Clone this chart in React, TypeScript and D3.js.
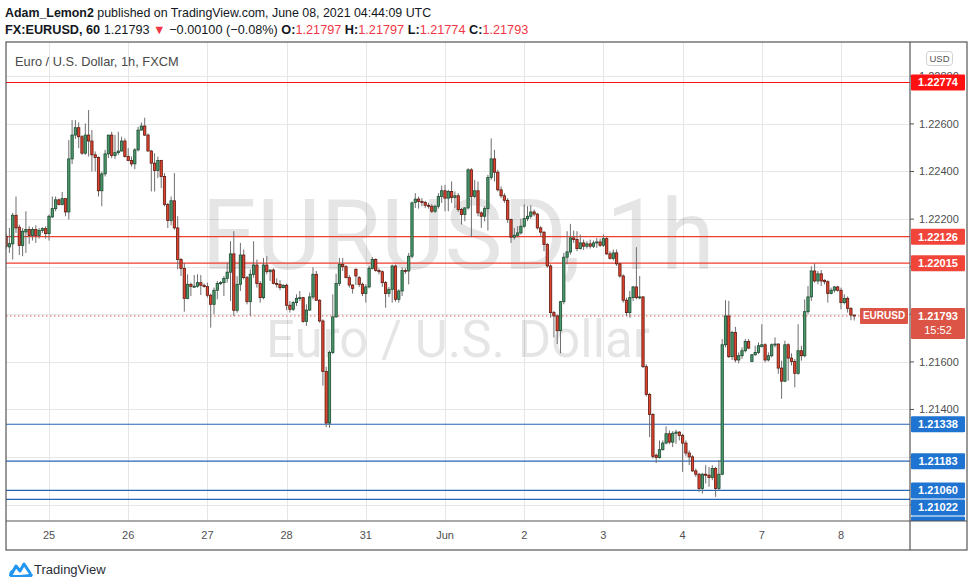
import React from "react";
import * as d3 from "d3";

// EURUSD 1h candles, [open, high, low, close], one array per trading day
type Bar = [number, number, number, number];

const may24: Bar[] = [
  [1.22128, 1.2214, 1.22075, 1.22086], [1.22083, 1.22163, 1.22058, 1.22097], [1.22096, 1.22226, 1.2203, 1.22216],
  [1.22216, 1.22295, 1.22142, 1.22163], [1.22166, 1.22177, 1.22049, 1.22089], [1.22089, 1.22163, 1.22044, 1.22149],
  [1.22146, 1.22233, 1.22058, 1.22156], [1.22156, 1.2217, 1.22096, 1.22131], [1.22131, 1.22166, 1.2211, 1.22156],
  [1.22156, 1.22174, 1.221, 1.22131], [1.22131, 1.22163, 1.22118, 1.22152], [1.22152, 1.22166, 1.22142, 1.2216],
  [1.2216, 1.2217, 1.22118, 1.22139],
];
const may25: Bar[] = [
  [1.22139, 1.22219, 1.2211, 1.22212], [1.22209, 1.22295, 1.22205, 1.22244], [1.22244, 1.22295, 1.22233, 1.22281],
  [1.22281, 1.22286, 1.22258, 1.22261], [1.22261, 1.22314, 1.22258, 1.22286], [1.22286, 1.22288, 1.22212, 1.2223],
  [1.2223, 1.22532, 1.22198, 1.22453], [1.22453, 1.22616, 1.22431, 1.22553], [1.22553, 1.22616, 1.22537, 1.22584],
  [1.22584, 1.22606, 1.22498, 1.22546], [1.22546, 1.22553, 1.2247, 1.22477], [1.22477, 1.22602, 1.2247, 1.22553],
  [1.22553, 1.22658, 1.22463, 1.22528], [1.22528, 1.22574, 1.224, 1.2247], [1.2247, 1.22484, 1.224, 1.22459],
  [1.22459, 1.22463, 1.22295, 1.22319], [1.22319, 1.224, 1.22254, 1.2239], [1.2239, 1.22491, 1.22379, 1.22474],
  [1.22474, 1.22553, 1.22456, 1.22553], [1.22553, 1.22567, 1.22456, 1.22467], [1.22467, 1.22553, 1.22453, 1.22479],
  [1.22479, 1.22567, 1.2247, 1.22486], [1.22486, 1.22546, 1.22484, 1.22528], [1.22528, 1.22539, 1.22459, 1.22463],
];
const may26: Bar[] = [
  [1.22463, 1.22498, 1.22443, 1.22446], [1.22446, 1.22463, 1.22421, 1.22432], [1.22432, 1.22498, 1.2241, 1.22491],
  [1.22491, 1.22588, 1.22484, 1.22574], [1.22574, 1.22606, 1.22572, 1.22591], [1.22591, 1.22626, 1.22549, 1.22553],
  [1.22553, 1.2256, 1.22484, 1.22486], [1.22486, 1.22491, 1.22316, 1.22435], [1.22435, 1.22477, 1.22316, 1.22404],
  [1.22404, 1.22463, 1.22372, 1.22446], [1.22446, 1.22449, 1.2233, 1.22379], [1.22379, 1.22393, 1.22254, 1.22261],
  [1.22261, 1.22268, 1.22163, 1.22194], [1.22194, 1.22295, 1.22174, 1.22277], [1.22277, 1.22393, 1.22156, 1.22163],
  [1.22163, 1.22212, 1.21989, 1.2203], [1.2203, 1.22037, 1.21961, 1.21993], [1.21993, 1.22016, 1.21811, 1.21867],
  [1.21867, 1.21968, 1.21863, 1.21926], [1.21926, 1.21933, 1.21877, 1.21917], [1.21917, 1.21965, 1.21912, 1.21918],
  [1.21918, 1.21968, 1.21912, 1.21933], [1.21933, 1.21965, 1.21881, 1.21922], [1.21922, 1.21929, 1.21912, 1.21917],
];
const may27: Bar[] = [
  [1.21917, 1.21933, 1.2187, 1.2188], [1.2188, 1.21887, 1.21744, 1.21842], [1.21842, 1.21912, 1.218, 1.21901],
  [1.21901, 1.2194, 1.21863, 1.21929], [1.21929, 1.2194, 1.21923, 1.21933], [1.21933, 1.21961, 1.21877, 1.21951],
  [1.21951, 1.22016, 1.21933, 1.21977], [1.21977, 1.22107, 1.21856, 1.22054], [1.22054, 1.22149, 1.21793, 1.21817],
  [1.21817, 1.2196, 1.21807, 1.21926], [1.21926, 1.221, 1.21898, 1.22049], [1.22049, 1.22072, 1.21947, 1.21954],
  [1.21954, 1.21961, 1.21842, 1.21853], [1.21853, 1.21989, 1.21793, 1.21968], [1.21968, 1.22107, 1.21954, 1.22007],
  [1.22007, 1.2203, 1.21912, 1.21929], [1.21929, 1.2194, 1.21849, 1.2187], [1.2187, 1.22037, 1.21863, 1.22007],
  [1.22007, 1.22044, 1.21968, 1.21979], [1.21979, 1.21989, 1.2194, 1.21986], [1.21986, 1.21993, 1.21926, 1.2193],
  [1.2193, 1.21951, 1.21912, 1.21926], [1.21926, 1.21943, 1.21901, 1.21912], [1.21912, 1.21926, 1.21909, 1.21922],
];
const may28: Bar[] = [
  [1.21922, 1.21929, 1.21817, 1.21838], [1.21838, 1.21856, 1.21807, 1.21821], [1.21821, 1.21856, 1.21814, 1.21849],
  [1.21849, 1.21884, 1.21835, 1.21867], [1.21867, 1.21898, 1.21856, 1.2187], [1.2187, 1.21873, 1.21765, 1.2177],
  [1.2177, 1.21842, 1.21751, 1.21818], [1.21818, 1.21891, 1.21814, 1.21873], [1.21873, 1.21998, 1.21863, 1.21968],
  [1.21968, 1.21982, 1.21856, 1.21859], [1.21859, 1.21863, 1.21765, 1.21772], [1.21772, 1.21779, 1.215, 1.2156],
  [1.2156, 1.2158, 1.21326, 1.21343], [1.21343, 1.21647, 1.21323, 1.2164], [1.2164, 1.21884, 1.21633, 1.21789],
  [1.21789, 1.2197, 1.21786, 1.21929], [1.21929, 1.22037, 1.21919, 1.2201], [1.2201, 1.22037, 1.21982, 1.22],
  [1.22, 1.22007, 1.21951, 1.21954], [1.21954, 1.21965, 1.21912, 1.21923], [1.21923, 1.21926, 1.21887, 1.21909],
];
const may30: Bar[] = [
  [1.21989, 1.21993, 1.21923, 1.21961], [1.21954, 1.21961, 1.21915, 1.21926], [1.21926, 1.21933, 1.21877, 1.21887],
];
const may31: Bar[] = [
  [1.21887, 1.21926, 1.21849, 1.21915], [1.21915, 1.22003, 1.21909, 1.21993], [1.21993, 1.2204, 1.21989, 1.2203],
  [1.2203, 1.22035, 1.21979, 1.21984], [1.21984, 1.21993, 1.21968, 1.21979], [1.21979, 1.21984, 1.21915, 1.21933],
  [1.21933, 1.2194, 1.21828, 1.21887], [1.21887, 1.21915, 1.21873, 1.21905], [1.21905, 1.22009, 1.21849, 1.22003],
  [1.22003, 1.22009, 1.21853, 1.21863], [1.21863, 1.21905, 1.21849, 1.21898], [1.21898, 1.21996, 1.21877, 1.21984],
  [1.21984, 1.21993, 1.2197, 1.21982], [1.21982, 1.22058, 1.21926, 1.22044], [1.22044, 1.22274, 1.22035, 1.22268],
  [1.2227, 1.22309, 1.22247, 1.22284], [1.22284, 1.22295, 1.22244, 1.22274], [1.22274, 1.22288, 1.22254, 1.2227],
  [1.2227, 1.22277, 1.22247, 1.22258], [1.22258, 1.22268, 1.22244, 1.22254], [1.22254, 1.22263, 1.22226, 1.22233],
  [1.22233, 1.2226, 1.22226, 1.22254], [1.22254, 1.22309, 1.22244, 1.22295], [1.22295, 1.22341, 1.22268, 1.22319],
];
const jun01: Bar[] = [
  [1.22319, 1.22344, 1.22233, 1.22288], [1.22288, 1.22323, 1.22233, 1.22316], [1.22316, 1.22358, 1.22268, 1.22291],
  [1.22291, 1.22316, 1.22247, 1.22298], [1.22298, 1.22309, 1.2223, 1.2224], [1.2224, 1.22247, 1.22177, 1.22219],
  [1.22219, 1.2225, 1.22191, 1.22247], [1.22247, 1.22414, 1.2224, 1.22407], [1.22407, 1.22414, 1.22124, 1.22295],
  [1.22295, 1.22365, 1.22288, 1.22319], [1.22319, 1.22358, 1.22212, 1.22226], [1.22226, 1.22233, 1.22163, 1.22212],
  [1.22212, 1.22254, 1.22191, 1.22244], [1.22244, 1.22386, 1.22152, 1.22375], [1.22375, 1.22539, 1.22365, 1.22453],
  [1.22453, 1.22491, 1.22358, 1.22397], [1.22397, 1.22407, 1.22316, 1.22323], [1.22323, 1.22337, 1.22288, 1.22298],
  [1.22298, 1.22309, 1.22268, 1.22279], [1.22279, 1.22288, 1.22184, 1.22198], [1.22198, 1.22202, 1.221, 1.22124],
  [1.22124, 1.22163, 1.22114, 1.22132], [1.22132, 1.2217, 1.22124, 1.22142], [1.22142, 1.22202, 1.22135, 1.2217],
];
const jun02: Bar[] = [
  [1.2217, 1.22261, 1.22163, 1.22202], [1.22202, 1.22254, 1.22191, 1.22212], [1.22212, 1.22258, 1.22202, 1.2223],
  [1.2223, 1.2224, 1.22212, 1.22221], [1.22221, 1.22226, 1.22156, 1.22163], [1.22163, 1.2217, 1.22128, 1.22145],
  [1.22145, 1.22149, 1.22065, 1.22093], [1.22093, 1.221, 1.21996, 1.22003], [1.22003, 1.2201, 1.21786, 1.21807],
  [1.21807, 1.21814, 1.21703, 1.21793], [1.21793, 1.218, 1.21675, 1.21731], [1.21731, 1.21856, 1.21636, 1.21853],
  [1.21853, 1.22058, 1.21842, 1.2204], [1.2204, 1.22149, 1.2201, 1.22062], [1.22062, 1.2218, 1.22051, 1.22121],
  [1.22121, 1.22152, 1.221, 1.22114], [1.22114, 1.22149, 1.22065, 1.22076], [1.22076, 1.22135, 1.22072, 1.221],
  [1.221, 1.22114, 1.2207, 1.22086], [1.22086, 1.22107, 1.22076, 1.22096], [1.22096, 1.22114, 1.22076, 1.22086],
  [1.22086, 1.2211, 1.22079, 1.221], [1.221, 1.22121, 1.22079, 1.22104], [1.22104, 1.22118, 1.22083, 1.2209],
];
const jun03: Bar[] = [
  [1.2209, 1.22135, 1.22083, 1.22118], [1.22118, 1.22124, 1.22049, 1.22054], [1.22054, 1.22065, 1.2203, 1.22035],
  [1.22035, 1.22072, 1.22026, 1.22058], [1.22058, 1.22072, 1.22003, 1.22012], [1.22012, 1.22016, 1.21954, 1.21961],
  [1.21961, 1.21968, 1.21849, 1.21859], [1.21859, 1.2187, 1.21793, 1.21807], [1.21807, 1.21898, 1.21786, 1.2187],
  [1.2187, 1.21919, 1.21856, 1.21915], [1.21915, 1.22082, 1.21863, 1.2187], [1.2187, 1.21961, 1.21863, 1.21873],
  [1.21873, 1.21877, 1.21574, 1.2158], [1.2158, 1.2159, 1.21455, 1.21463], [1.21463, 1.2147, 1.21284, 1.21379],
  [1.21379, 1.21385, 1.21194, 1.21203], [1.21208, 1.21215, 1.21175, 1.21198], [1.21198, 1.2127, 1.21194, 1.21231],
  [1.21231, 1.2127, 1.21228, 1.21259], [1.21259, 1.21329, 1.21254, 1.21298], [1.21298, 1.21312, 1.21254, 1.21263],
  [1.21263, 1.21309, 1.21242, 1.213], [1.213, 1.21315, 1.21256, 1.21305], [1.21305, 1.21309, 1.2127, 1.21291],
];
const jun04: Bar[] = [
  [1.21291, 1.21298, 1.21138, 1.21259], [1.21259, 1.2127, 1.21203, 1.21217], [1.21217, 1.21228, 1.21166, 1.21201],
  [1.21201, 1.21208, 1.21138, 1.21142], [1.21142, 1.21152, 1.21117, 1.21128], [1.21128, 1.21134, 1.21054, 1.21068],
  [1.21068, 1.21134, 1.21047, 1.21128], [1.21128, 1.21166, 1.21089, 1.21124], [1.21124, 1.21159, 1.21075, 1.21114],
  [1.21114, 1.21166, 1.21103, 1.21152], [1.21152, 1.21159, 1.21033, 1.21068], [1.21068, 1.21187, 1.21061, 1.21128],
  [1.21128, 1.21696, 1.21124, 1.21672], [1.21672, 1.21859, 1.21661, 1.21793], [1.21793, 1.21856, 1.21616, 1.21622],
  [1.21622, 1.21731, 1.21608, 1.21724], [1.21724, 1.21747, 1.21598, 1.21608], [1.21608, 1.2164, 1.21594, 1.21626],
  [1.21626, 1.21661, 1.21613, 1.21647], [1.21647, 1.21696, 1.2164, 1.21686], [1.21686, 1.21696, 1.21654, 1.21658],
];
const jun06: Bar[] = [
  [1.21602, 1.21633, 1.21598, 1.2163], [1.2163, 1.21668, 1.21626, 1.2164], [1.2164, 1.21682, 1.21633, 1.21668],
];
const jun07: Bar[] = [
  [1.21664, 1.21758, 1.21661, 1.21672], [1.21672, 1.21678, 1.21598, 1.21608], [1.21608, 1.2164, 1.21602, 1.21626],
  [1.21626, 1.21678, 1.21619, 1.21672], [1.21672, 1.21703, 1.21661, 1.21675], [1.21675, 1.21678, 1.2155, 1.21574],
  [1.21574, 1.21605, 1.21445, 1.21519], [1.21519, 1.21689, 1.21515, 1.21672], [1.21672, 1.21678, 1.21521, 1.21616],
  [1.21616, 1.21636, 1.21585, 1.21602], [1.21602, 1.21612, 1.21493, 1.21552], [1.21552, 1.21758, 1.21546, 1.21647],
  [1.21647, 1.21668, 1.21605, 1.21626], [1.21626, 1.21863, 1.21619, 1.21811], [1.21811, 1.21919, 1.218, 1.21873],
  [1.21873, 1.22002, 1.21856, 1.21982], [1.21982, 1.22014, 1.21933, 1.2194], [1.2194, 1.21982, 1.21926, 1.2197],
  [1.2197, 1.21986, 1.21919, 1.2194], [1.21943, 1.21947, 1.21926, 1.21937], [1.21937, 1.21943, 1.21849, 1.21887],
  [1.21887, 1.21912, 1.21884, 1.21901], [1.21901, 1.21919, 1.21891, 1.21915], [1.21915, 1.2192, 1.21895, 1.21901],
];
const jun08: Bar[] = [
  [1.21901, 1.21912, 1.21821, 1.21849], [1.21849, 1.21884, 1.21842, 1.21867], [1.21867, 1.21875, 1.21807, 1.21825],
  [1.21825, 1.2183, 1.21775, 1.21797], [1.21797, 1.21797, 1.21774, 1.21793],
];

const bars: Bar[] = [
  ...may24, ...may25, ...may26, ...may27, ...may28, ...may30, ...may31,
  ...jun01, ...jun02, ...jun03, ...jun04, ...jun06, ...jun07, ...jun08,
];
const firstBarHour = -13; // first bar is 13 hours before the May 25 label

const dayLabels = ["25", "26", "27", "28", "31", "Jun", "2", "3", "4", "7", "8"];
const dayHours = [0, 24, 48, 72, 96, 120, 144, 168, 192, 216, 240];

const priceTicks = [1.21, 1.212, 1.214, 1.216, 1.218, 1.22, 1.222, 1.224, 1.226, 1.228];

type Level = { price: number; line: string | null; box: string };
const levels: Level[] = [
  { price: 1.22774, line: "#ff1111", box: "#ff1111" },
  { price: 1.22126, line: "#f23c2e", box: "#f2453a" },
  { price: 1.22015, line: "#f23c2e", box: "#f2453a" },
  { price: 1.21338, line: "#2466b5", box: "#1f74d1" },
  { price: 1.21183, line: "#2466b5", box: "#1f74d1" },
  { price: 1.2106, line: "#2466b5", box: "#1f74d1" },
  { price: 1.21022, line: "#2466b5", box: "#1f74d1" },
  { price: 1.2094, line: null, box: "#1f74d1" }, // only the edge of its tag shows
];
const lastPrice = 1.21793;
const countdown = "15:52";

const W = 975;
const H = 587;
const left = 6;
const top = 42;
const plotRight = 910;
const plotBottom = 521;
const frameRight = 967;
const frameBottom = 550;
const font = "'Liberation Sans', Arial, sans-serif";
const lastColor = "#dc5446";

export default function App() {
  const x = d3.scaleLinear().domain([0, 240]).range([49, 841]);
  const y = d3.scaleLinear().domain([1.209315, 1.229441]).range([plotBottom, top]);
  const step = x(1) - x(0);
  const bw = step * 0.7;

  // axis label boxes, pushed down when they collide
  const boxH = 16;
  const lastTop = y(lastPrice) - 8;
  const lastH = 31;
  const boxes: { level: Level; cy: number }[] = [];
  let prevBottom = -Infinity;
  levels.forEach((lv) => {
    let cy = y(lv.price);
    if (cy - boxH / 2 < prevBottom + 1) cy = prevBottom + 1 + boxH / 2;
    boxes.push({ level: lv, cy });
    prevBottom = cy + boxH / 2;
  });

  // tick labels hidden where a tag sits on them (the top one is only partly covered)
  const covered = (ty: number) =>
    boxes.some((b) => Math.abs(b.cy - ty) < 7) || (ty > lastTop - 4 && ty < lastTop + lastH + 4);
  const shownTicks = priceTicks.filter((p) => p === 1.228 || !covered(y(p)));

  const fmt = d3.format(".5f");

  return (
    <div style={{ position: "absolute", left: 0, top: 0 }}>
      <svg width={W} height={H} style={{ display: "block", fontFamily: font }}>
        <rect width={W} height={H} fill="#fff" />
        <defs>
          <clipPath id="plot">
            <rect x={left} y={top} width={plotRight - left} height={plotBottom - top} />
          </clipPath>
          <clipPath id="axis">
            <rect x={plotRight} y={top} width={frameRight - plotRight} height={plotBottom - top} />
          </clipPath>
        </defs>

        {/* header */}
        <text x={5} y={17} fontSize={12.4} fill="#131722">
          <tspan fontWeight="bold">Adam_Lemon2</tspan>
          <tspan> published on TradingView.com, June 08, 2021 04:44:09 UTC</tspan>
        </text>
        <text x={5} y={34} fontSize={12.7} fill="#131722">
          <tspan fontWeight="bold">FX:EURUSD, 60</tspan>
          <tspan> 1.21793 </tspan>
          <tspan fill="#f23645">▼</tspan>
          <tspan> −0.00100 (−0.08%) </tspan>
          <tspan fontWeight="bold">O:</tspan>
          <tspan fill="#f23645">1.21797 </tspan>
          <tspan fontWeight="bold">H:</tspan>
          <tspan fill="#f23645">1.21797 </tspan>
          <tspan fontWeight="bold">L:</tspan>
          <tspan fill="#f23645">1.21774 </tspan>
          <tspan fontWeight="bold">C:</tspan>
          <tspan fill="#f23645">1.21793</tspan>
        </text>

        {/* grid */}
        <g stroke="#e6e6e6" strokeWidth={1}>
          {dayHours.map((h) => (
            <line key={"v" + h} x1={Math.round(x(h)) + 0.5} x2={Math.round(x(h)) + 0.5} y1={top} y2={plotBottom} />
          ))}
          {priceTicks.map((p) => (
            <line key={"h" + p} x1={left} x2={plotRight} y1={Math.round(y(p)) + 0.5} y2={Math.round(y(p)) + 0.5} />
          ))}
        </g>

        {/* watermark */}
        <g fill="#000" fillOpacity={0.1} textAnchor="middle" fontFamily="Roboto, 'Liberation Sans', sans-serif">
          <text x={(left + plotRight) / 2} y={269} fontSize={98}>EURUSD, 1h</text>
          <text x={(left + plotRight) / 2} y={357} fontSize={51}>Euro / U.S. Dollar</text>
        </g>

        <g clipPath="url(#plot)">
          {/* horizontal levels */}
          {levels.filter((lv) => lv.line).map((lv) => (
            <line key={"l" + lv.price} x1={left} x2={plotRight} y1={y(lv.price)} y2={y(lv.price)} stroke={lv.line as string} strokeWidth={1.2} />
          ))}
          <line x1={left} x2={plotRight} y1={y(lastPrice)} y2={y(lastPrice)} stroke={lastColor} strokeWidth={1} strokeDasharray="1.5,2.5" />

          {/* candles */}
          {bars.map((b, i) => {
            const cx = x(i + firstBarHour);
            const [o, hi, lo, c] = b;
            const up = c >= o;
            const yt = y(Math.max(o, c));
            const yb = y(Math.min(o, c));
            return (
              <g key={i}>
                <line x1={cx} x2={cx} y1={y(hi)} y2={y(lo)} stroke="#6e6e6e" strokeWidth={1} />
                <rect
                  x={cx - bw / 2}
                  y={yt}
                  width={bw}
                  height={Math.max(1, yb - yt)}
                  fill={up ? "#4a9a6c" : "#e04430"}
                  stroke={up ? "#1c4a30" : "#5e1a10"}
                  strokeWidth={0.8}
                />
              </g>
            );
          })}
        </g>

        {/* legend */}
        <text x={15} y={66} fontSize={12.8} fill="#4a4a4a">Euro / U.S. Dollar, 1h, FXCM</text>

        {/* EURUSD tag */}
        <rect x={860} y={lastTop} width={48} height={16} fill={lastColor} rx={1} />
        <text x={884} y={lastTop + 11.5} fontSize={10} fill="#fff" fontWeight="bold" textAnchor="middle">EURUSD</text>

        {/* price axis */}
        <g fontSize={11} fill="#4f4f4f">
          {priceTicks.map((p) => (
            <line key={"k" + p} x1={plotRight} x2={plotRight + 4} y1={y(p)} y2={y(p)} stroke="#555" />
          ))}
          {shownTicks.map((p) => (
            <text key={"t" + p} x={919} y={y(p) + 4}>{fmt(p)}</text>
          ))}
        </g>
        <rect x={926.5} y={51.5} width={26} height={14} rx={3} fill="#fff" stroke="#d0d0d0" />
        <text x={939.5} y={62} fontSize={9.5} fill="#555" textAnchor="middle">USD</text>

        <g clipPath="url(#axis)">
          {boxes.map(({ level, cy }) => (
            <g key={"b" + level.price}>
              <rect x={plotRight + 1} y={cy - boxH / 2} width={54} height={boxH} fill={level.box} rx={1} />
              {cy + 4 < plotBottom && (
                <text x={plotRight + 28} y={cy + 4} fontSize={11} fontWeight="bold" fill="#fff" textAnchor="middle">
                  {fmt(level.price)}
                </text>
              )}
            </g>
          ))}
          <rect x={plotRight + 1} y={lastTop} width={54} height={lastH} fill={lastColor} rx={1} />
          <text x={plotRight + 28} y={lastTop + 12} fontSize={11} fontWeight="bold" fill="#fff" textAnchor="middle">
            {fmt(lastPrice)}
          </text>
          <text x={plotRight + 28} y={lastTop + 26} fontSize={11} fill="#fff" textAnchor="middle">{countdown}</text>
        </g>

        {/* time axis */}
        <g fontSize={11} fill="#4f4f4f" textAnchor="middle">
          {dayLabels.map((d, i) => (
            <text key={d} x={x(dayHours[i])} y={539}>{d}</text>
          ))}
        </g>

        {/* frame */}
        <g stroke="#555" strokeWidth={1.2} fill="none">
          <rect x={left} y={top} width={frameRight - left} height={frameBottom - top} />
          <line x1={plotRight} x2={plotRight} y1={top} y2={frameBottom} />
          <line x1={left} x2={frameRight} y1={plotBottom} y2={plotBottom} />
        </g>

        {/* footer */}
        <g transform="translate(10,561)">
          <path d="M1 14 L6 5 L10 10 L14 3 L20 12" stroke="#2196f3" strokeWidth={3} fill="none" strokeLinejoin="round" strokeLinecap="round" />
          <path d="M0 15 Q0 10 4 9 M20 13 Q23 14 21 15 L0 15" stroke="#2196f3" strokeWidth={2} fill="#2196f3" />
        </g>
        <text x={34} y={574} fontSize={13} fill="#2a2e39">TradingView</text>
      </svg>
    </div>
  );
}
